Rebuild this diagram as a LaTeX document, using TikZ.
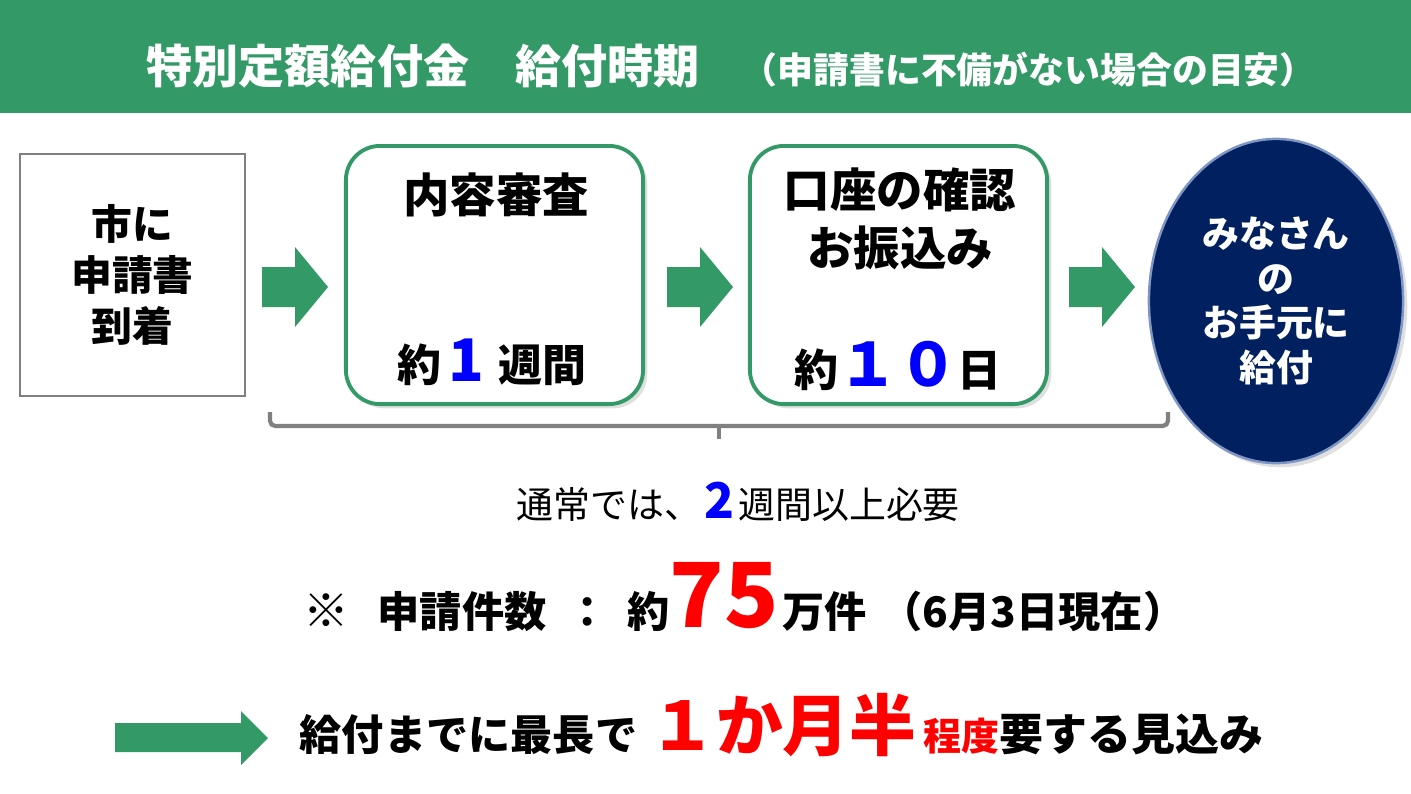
\documentclass[tikz,border=0pt]{standalone}
\usepackage{fontspec}
\setmainfont{Noto Sans CJK JP}
\usepackage{xcolor}
\usetikzlibrary{shapes.geometric,shadows}
\definecolor{kyugreen}{HTML}{339966}
\definecolor{kyunavy}{HTML}{002060}
\definecolor{kyuedge}{HTML}{7F96C4}
\definecolor{kyugray}{HTML}{808080}
\newcommand\jsize[2]{\fontsize{#1pt}{#2pt}\selectfont}
\tikzset{
  fatarrow/.pic={\fill[kyugreen] (0,-20) -- (33,-20) -- (33,-40) -- (66,0) -- (33,40) -- (33,20) -- (0,20) -- cycle;},
  stepframe/.style={draw=kyugreen, line width=1.1pt, rounded corners=0.34cm, fill=white,
    minimum width=2.97cm, minimum height=2.58cm, inner sep=0pt,
    drop shadow={opacity=0.25, shadow xshift=1.2pt, shadow yshift=-1.2pt}},
  jlabel/.style 2 args={inner sep=0pt, font=\bfseries\jsize{#1}{#2}},
}

\begin{document}
\begin{tikzpicture}[x=0.01cm,y=-0.01cm]
\useasboundingbox (0,0) rectangle (1411,793);
% title bar
\fill[kyugreen] (0,0) rectangle (1411,113);
\node[jlabel={13.1}{16}, text=white, anchor=base west] (title) at (146,83)
  {特別定額給付金\hspace{13.1pt}給付時期\hspace{12pt}{\jsize{10.2}{12}（申請書に不備がない場合の目安）}};

% steps
\node[draw=kyugray, line width=0.8pt, fill=white, minimum width=2.25cm, minimum height=2.42cm,
  jlabel={11.6}{14.6}, align=center] (tochaku) at (132.5,275) {市に\\申請書\\到着};
\pic at (262,287) {fatarrow};

\node[stepframe] (shinsa) at (494.5,275) {};
\node[jlabel={13.2}{16}] (shinsattl) at (496,195) {内容審査};
\node[jlabel={12.5}{15}, anchor=base] (shinsaday) at (492,381)
  {約\hspace{2pt}{\jsize{16.7}{20}\color{blue}1}\hspace{4pt}週間};
\pic at (667,287) {fatarrow};

\node[stepframe] (koza) at (898.5,275) {};
\node[jlabel={13.2}{16.4}, align=center] (kozattl) at (900,219) {口座の確認\\お振込み};
\node[jlabel={12.5}{15}, anchor=base] (kozaday) at (898,386)
  {約{\jsize{17}{20}\color{blue}１０}日};
\pic at (1069,287) {fatarrow};

\node[ellipse, fill=kyunavy, draw=kyuedge, line width=0.7pt, minimum width=2.54cm, minimum height=3.24cm,
  drop shadow={opacity=0.25, shadow xshift=1.2pt, shadow yshift=-1.2pt},
  jlabel={10.5}{12.7}, text=white, align=center] (temoto) at (1276,301) {みなさん\\の\\お手元に\\給付};

% brace under the two steps
\draw[kyugray, line width=1.2pt, rounded corners=1.5pt] (270,412) -- (270,426) -- (1168,426) -- (1168,412);
\draw[kyugray, line width=1.2pt] (719,426) -- (719,439);

\node[inner sep=0pt, font=\jsize{10.5}{13}, anchor=base west] (tsujo) at (516,518)
  {通常では、\hspace{1pt}{\bfseries\jsize{14}{16}\color{blue}2}\hspace{1pt}週間以上必要};

% number of applications
\node[jlabel={12}{14}, anchor=base] (kome) at (326,627) {\jsize{13}{15}※};
\node[jlabel={12}{14}, anchor=base] (kensu) at (462,627) {申請件数};
\node[jlabel={12}{14}, anchor=base] (colon) at (588,627) {：};
\node[jlabel={12}{14}, anchor=base west] (yaku) at (627,627)
  {約{\jsize{25.5}{30}\color{red}75}\hspace{1pt}万件};
\node[jlabel={12}{14}, anchor=base west] (genzai) at (880,627) {（6月3日現在）};

% bottom line
\fill[kyugreen] (115,723) -- (241,723) -- (241,711) -- (268,738) -- (241,765) -- (241,752) -- (115,752) -- cycle;
\node[jlabel={12}{14}, anchor=base west] (mikomi) at (299,750)
  {給付までに最長で\hspace{3.4pt}{\color{red}\jsize{19}{22}１か月半}\hspace{2pt}{\color{red}\jsize{10.8}{13}程度}{\jsize{12.5}{14}要する見込み}};
\end{tikzpicture}
\end{document}
